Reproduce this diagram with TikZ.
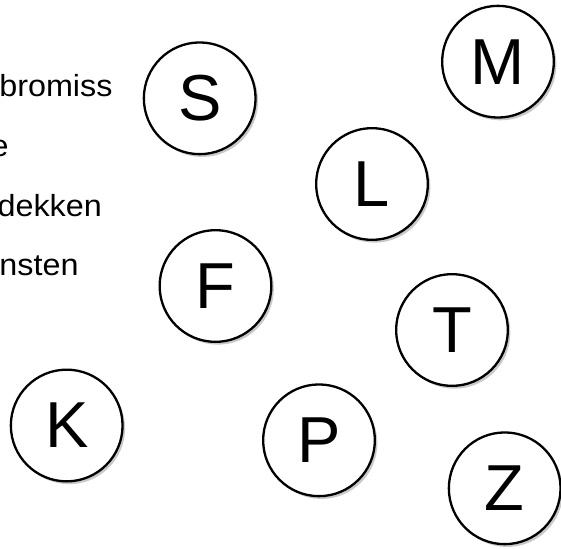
\documentclass[tikz,border=0pt]{standalone}
\usepackage{fontspec}
\setmainfont{Liberation Sans}
\newfontfamily\sidefont[FakeStretch=1.06]{Liberation Sans}
\usetikzlibrary{shadows}
\begin{document}
\begin{tikzpicture}[x=1pt,y=-1pt,
  lettercircle/.style={circle, draw=black, line width=2.3pt, fill=white,
    minimum size=111.7pt, inner sep=0pt, text depth=0pt,
    font=\fontsize{65}{65}\selectfont,
    drop shadow={shadow xshift=2.5pt, shadow yshift=-2.8pt, fill=black!21, opacity=1}},
  sidetext/.style={anchor=base east, inner sep=0pt, font=\sidefont\fontsize{30.5}{36}\selectfont}
]
\useasboundingbox (0,0) rectangle (561,548);
\clip (0,0) rectangle (561,548);
\fill[white] (0,0) rectangle (561,548);

\node[sidetext] (t1) at (112.7,97) {bromiss};
\node[sidetext] (t2) at (8.8,157) {e};
\node[sidetext] (t3) at (102,216.5) {dekken};
\node[sidetext] (t4) at (78.7,275.5) {nsten};

\node[lettercircle] (S) at (199.7,98.3) {S};
\node[lettercircle] (M) at (498,61.7) {M};
\node[lettercircle] (L) at (372,184) {L};
\node[lettercircle] (F) at (215.5,286) {F};
\node[lettercircle] (T) at (452,330) {T};
\node[lettercircle] (K) at (66.7,425.5) {K};
\node[lettercircle] (P) at (319,440.3) {P};
\node[lettercircle] (Z) at (504.7,488.3) {Z};
\end{tikzpicture}
\end{document}
